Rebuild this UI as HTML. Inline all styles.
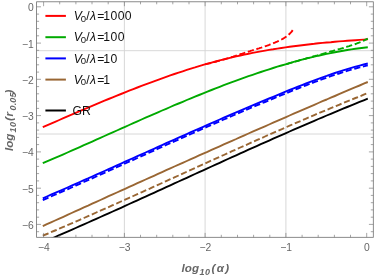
<!DOCTYPE html>
<html><head><meta charset="utf-8"><title>plot</title>
<style>
html,body{margin:0;padding:0;background:#fff;}
svg{display:block;will-change:transform;}
text{font-family:"Liberation Sans",Arial,Helvetica,sans-serif;}
</style></head><body>
<svg width="374" height="276" viewBox="0 0 374 276">
<rect x="0" y="0" width="374" height="276" fill="#ffffff"/>
<defs><clipPath id="pc"><rect x="36.6" y="1.8" width="336.7" height="235.5"/></clipPath></defs>
<g stroke="#d4d4d4" stroke-width="0.9" fill="none"><line x1="124.4" y1="1.8" x2="124.4" y2="237.3"/><line x1="205.1" y1="1.8" x2="205.1" y2="237.3"/><line x1="285.9" y1="1.8" x2="285.9" y2="237.3"/><line x1="36.6" y1="50.7" x2="373.3" y2="50.7"/><line x1="36.6" y1="134.0" x2="373.3" y2="134.0"/></g>
<g fill="none" clip-path="url(#pc)" stroke-linecap="butt" stroke-linejoin="round"><path d="M42.8,127.2 L46.9,125.4 L51.0,123.6 L55.1,121.8 L59.3,120.0 L63.4,118.2 L67.5,116.4 L71.6,114.7 L75.7,112.9 L79.8,111.1 L83.9,109.4 L88.1,107.6 L92.2,105.9 L96.3,104.1 L100.4,102.4 L104.5,100.7 L108.6,99.0 L112.7,97.3 L116.9,95.6 L121.0,94.0 L125.1,92.3 L129.2,90.7 L133.3,89.1 L137.4,87.5 L141.5,85.9 L145.6,84.3 L149.8,82.8 L153.9,81.3 L158.0,79.8 L162.1,78.3 L166.2,76.8 L170.3,75.4 L174.4,74.0 L178.6,72.6 L182.7,71.3 L186.8,69.9 L190.9,68.6 L195.0,67.4 L199.1,66.1 L203.2,64.9 L207.4,63.7 L211.5,62.6 L215.6,61.5 L219.7,60.4 L223.8,59.3 L227.9,58.3 L232.0,57.3 L236.2,56.4 L240.3,55.5 L244.4,54.6 L248.5,53.7 L252.6,52.9 L256.7,52.1 L260.8,51.4 L265.0,50.6 L269.1,49.9 L273.2,49.3 L277.3,48.6 L281.4,48.0 L285.5,47.4 L289.6,46.8 L293.7,46.2 L297.9,45.7 L302.0,45.2 L306.1,44.7 L310.2,44.2 L314.3,43.8 L318.4,43.3 L322.5,42.9 L326.7,42.5 L330.8,42.2 L334.9,41.8 L339.0,41.4 L343.1,41.1 L347.2,40.8 L351.3,40.5 L355.5,40.2 L359.6,39.9 L363.7,39.6 L367.8,39.3" stroke="#ff0000" stroke-width="1.9"/>
<path d="M42.8,163.2 L46.9,161.4 L51.0,159.7 L55.1,157.9 L59.3,156.1 L63.4,154.3 L67.5,152.5 L71.6,150.7 L75.7,148.9 L79.8,147.1 L83.9,145.2 L88.1,143.4 L92.2,141.6 L96.3,139.7 L100.4,137.9 L104.5,136.0 L108.6,134.2 L112.7,132.4 L116.9,130.5 L121.0,128.7 L125.1,126.9 L129.2,125.0 L133.3,123.2 L137.4,121.4 L141.5,119.5 L145.6,117.7 L149.8,115.9 L153.9,114.1 L158.0,112.3 L162.1,110.5 L166.2,108.8 L170.3,107.0 L174.4,105.2 L178.6,103.5 L182.7,101.8 L186.8,100.0 L190.9,98.3 L195.0,96.6 L199.1,95.0 L203.2,93.3 L207.4,91.6 L211.5,90.0 L215.6,88.4 L219.7,86.8 L223.8,85.2 L227.9,83.7 L232.0,82.1 L236.2,80.6 L240.3,79.1 L244.4,77.6 L248.5,76.2 L252.6,74.8 L256.7,73.4 L260.8,72.0 L265.0,70.6 L269.1,69.3 L273.2,68.0 L277.3,66.7 L281.4,65.5 L285.5,64.3 L289.6,63.1 L293.7,61.9 L297.9,60.8 L302.0,59.7 L306.1,58.7 L310.2,57.7 L314.3,56.7 L318.4,55.7 L322.5,54.8 L326.7,53.9 L330.8,53.1 L334.9,52.2 L339.0,51.5 L343.1,50.7 L347.2,50.0 L351.3,49.4 L355.5,48.8 L359.6,48.2 L363.7,47.7 L367.8,47.2" stroke="#00aa00" stroke-width="1.9"/>
<path d="M42.8,198.3 L46.9,196.5 L51.0,194.7 L55.1,192.9 L59.3,191.1 L63.4,189.3 L67.5,187.5 L71.6,185.7 L75.7,183.8 L79.8,182.0 L83.9,180.2 L88.1,178.4 L92.2,176.5 L96.3,174.7 L100.4,172.8 L104.5,171.0 L108.6,169.1 L112.7,167.3 L116.9,165.4 L121.0,163.6 L125.1,161.7 L129.2,159.9 L133.3,158.0 L137.4,156.2 L141.5,154.3 L145.6,152.5 L149.8,150.6 L153.9,148.8 L158.0,146.9 L162.1,145.1 L166.2,143.2 L170.3,141.4 L174.4,139.6 L178.6,137.7 L182.7,135.9 L186.8,134.1 L190.9,132.2 L195.0,130.4 L199.1,128.6 L203.2,126.8 L207.4,124.9 L211.5,123.1 L215.6,121.3 L219.7,119.5 L223.8,117.7 L227.9,116.0 L232.0,114.2 L236.2,112.4 L240.3,110.6 L244.4,108.9 L248.5,107.1 L252.6,105.4 L256.7,103.6 L260.8,101.9 L265.0,100.2 L269.1,98.5 L273.2,96.8 L277.3,95.1 L281.4,93.4 L285.5,91.7 L289.6,90.0 L293.7,88.4 L297.9,86.7 L302.0,85.1 L306.1,83.5 L310.2,81.9 L314.3,80.4 L318.4,78.8 L322.5,77.3 L326.7,75.9 L330.8,74.4 L334.9,73.0 L339.0,71.7 L343.1,70.4 L347.2,69.1 L351.3,67.9 L355.5,66.7 L359.6,65.6 L363.7,64.5 L367.8,63.5" stroke="#0000ff" stroke-width="1.9"/>
<path d="M42.8,226.1 L46.9,224.2 L51.0,222.4 L55.1,220.5 L59.3,218.6 L63.4,216.8 L67.5,214.9 L71.6,213.0 L75.7,211.2 L79.8,209.3 L83.9,207.4 L88.1,205.6 L92.2,203.7 L96.3,201.8 L100.4,200.0 L104.5,198.1 L108.6,196.2 L112.7,194.4 L116.9,192.5 L121.0,190.6 L125.1,188.8 L129.2,186.9 L133.3,185.1 L137.4,183.2 L141.5,181.3 L145.6,179.5 L149.8,177.6 L153.9,175.8 L158.0,173.9 L162.1,172.1 L166.2,170.2 L170.3,168.4 L174.4,166.5 L178.6,164.7 L182.7,162.8 L186.8,161.0 L190.9,159.1 L195.0,157.3 L199.1,155.4 L203.2,153.6 L207.4,151.8 L211.5,149.9 L215.6,148.1 L219.7,146.3 L223.8,144.4 L227.9,142.6 L232.0,140.8 L236.2,139.0 L240.3,137.1 L244.4,135.3 L248.5,133.5 L252.6,131.7 L256.7,129.9 L260.8,128.1 L265.0,126.3 L269.1,124.5 L273.2,122.7 L277.3,120.9 L281.4,119.1 L285.5,117.3 L289.6,115.5 L293.7,113.7 L297.9,111.9 L302.0,110.1 L306.1,108.3 L310.2,106.6 L314.3,104.8 L318.4,103.0 L322.5,101.2 L326.7,99.5 L330.8,97.7 L334.9,96.0 L339.0,94.2 L343.1,92.4 L347.2,90.7 L351.3,88.9 L355.5,87.2 L359.6,85.5 L363.7,83.7 L367.8,82.0" stroke="#996633" stroke-width="1.9"/>
<path d="M42.8,242.3 L46.9,240.5 L51.0,238.8 L55.1,237.0 L59.3,235.2 L63.4,233.4 L67.5,231.6 L71.6,229.8 L75.7,228.0 L79.8,226.2 L83.9,224.4 L88.1,222.5 L92.2,220.7 L96.3,218.9 L100.4,217.0 L104.5,215.2 L108.6,213.3 L112.7,211.5 L116.9,209.6 L121.0,207.8 L125.1,205.9 L129.2,204.0 L133.3,202.2 L137.4,200.3 L141.5,198.4 L145.6,196.6 L149.8,194.7 L153.9,192.8 L158.0,190.9 L162.1,189.1 L166.2,187.2 L170.3,185.3 L174.4,183.4 L178.6,181.5 L182.7,179.7 L186.8,177.8 L190.9,175.9 L195.0,174.0 L199.1,172.1 L203.2,170.3 L207.4,168.4 L211.5,166.5 L215.6,164.6 L219.7,162.8 L223.8,160.9 L227.9,159.0 L232.0,157.2 L236.2,155.3 L240.3,153.4 L244.4,151.6 L248.5,149.7 L252.6,147.9 L256.7,146.1 L260.8,144.2 L265.0,142.4 L269.1,140.6 L273.2,138.7 L277.3,136.9 L281.4,135.1 L285.5,133.3 L289.6,131.5 L293.7,129.7 L297.9,127.9 L302.0,126.1 L306.1,124.3 L310.2,122.6 L314.3,120.8 L318.4,119.0 L322.5,117.3 L326.7,115.5 L330.8,113.8 L334.9,112.1 L339.0,110.4 L343.1,108.7 L347.2,107.0 L351.3,105.3 L355.5,103.6 L359.6,101.9 L363.7,100.3 L367.8,98.6" stroke="#000000" stroke-width="1.9"/>
<path d="M205.2,64.4 L206.3,64.1 L207.4,63.9 L208.6,63.6 L209.7,63.3 L210.8,63.0 L211.9,62.7 L213.1,62.4 L214.2,62.1 L215.3,61.8 L216.4,61.5 L217.6,61.2 L218.7,60.9 L219.8,60.6 L220.9,60.3 L222.0,60.0 L223.2,59.6 L224.3,59.3 L225.4,59.0 L226.5,58.6 L227.7,58.3 L228.8,58.0 L229.9,57.6 L231.0,57.3 L232.1,56.9 L233.3,56.6 L234.4,56.2 L235.5,55.9 L236.6,55.5 L237.8,55.1 L238.9,54.8 L240.0,54.4 L241.1,54.0 L242.3,53.7 L243.4,53.3 L244.5,52.9 L245.6,52.5 L246.7,52.2 L247.9,51.8 L249.0,51.4 L250.1,51.1 L251.2,50.7 L252.4,50.4 L253.5,50.0 L254.6,49.7 L255.7,49.3 L256.8,49.0 L258.0,48.6 L259.1,48.3 L260.2,47.9 L261.3,47.6 L262.5,47.2 L263.6,46.9 L264.7,46.5 L265.8,46.1 L267.0,45.7 L268.1,45.3 L269.2,44.9 L270.3,44.4 L271.4,44.0 L272.6,43.5 L273.7,43.0 L274.8,42.6 L275.9,42.1 L277.1,41.6 L278.2,41.1 L279.3,40.6 L280.4,40.0 L281.5,39.5 L282.7,38.9 L283.8,38.2 L284.9,37.5 L286.0,36.8 L287.2,36.0 L288.3,35.0 L289.4,34.0 L290.5,32.9 L291.7,31.6 L292.8,30.0 L293.9,28.0" stroke="#ff0000" stroke-width="1.9" stroke-dasharray="6.2 2.7"/>
<path d="M286.4,64.1 L287.4,63.8 L288.5,63.5 L289.5,63.2 L290.5,62.9 L291.6,62.6 L292.6,62.3 L293.6,62.0 L294.6,61.7 L295.7,61.4 L296.7,61.1 L297.7,60.8 L298.8,60.5 L299.8,60.2 L300.8,59.9 L301.9,59.7 L302.9,59.4 L303.9,59.1 L304.9,58.8 L306.0,58.5 L307.0,58.2 L308.0,57.9 L309.1,57.7 L310.1,57.4 L311.1,57.1 L312.2,56.8 L313.2,56.5 L314.2,56.2 L315.3,55.9 L316.3,55.6 L317.3,55.4 L318.3,55.1 L319.4,54.8 L320.4,54.5 L321.4,54.2 L322.5,53.9 L323.5,53.6 L324.5,53.3 L325.6,53.0 L326.6,52.7 L327.6,52.4 L328.6,52.1 L329.7,51.8 L330.7,51.5 L331.7,51.3 L332.8,51.0 L333.8,50.7 L334.8,50.4 L335.9,50.1 L336.9,49.8 L337.9,49.5 L338.9,49.2 L340.0,48.9 L341.0,48.6 L342.0,48.3 L343.1,48.0 L344.1,47.6 L345.1,47.3 L346.2,47.0 L347.2,46.7 L348.2,46.4 L349.3,46.1 L350.3,45.7 L351.3,45.4 L352.3,45.1 L353.4,44.7 L354.4,44.4 L355.4,44.0 L356.5,43.6 L357.5,43.2 L358.5,42.8 L359.6,42.4 L360.6,42.0 L361.6,41.6 L362.6,41.1 L363.7,40.7 L364.7,40.2 L365.7,39.7 L366.8,39.1 L367.8,38.6" stroke="#00aa00" stroke-width="1.9" stroke-dasharray="6.2 2.7"/>
<path d="M42.8,200.1 L46.9,198.3 L51.0,196.5 L55.1,194.7 L59.3,192.9 L63.4,191.1 L67.5,189.3 L71.6,187.5 L75.7,185.6 L79.8,183.8 L83.9,182.0 L88.1,180.2 L92.2,178.3 L96.3,176.5 L100.4,174.6 L104.5,172.8 L108.6,170.9 L112.7,169.1 L116.9,167.2 L121.0,165.4 L125.1,163.5 L129.2,161.7 L133.3,159.8 L137.4,158.0 L141.5,156.1 L145.6,154.3 L149.8,152.4 L153.9,150.6 L158.0,148.7 L162.1,146.9 L166.2,145.0 L170.3,143.2 L174.4,141.4 L178.6,139.5 L182.7,137.7 L186.8,135.9 L190.9,134.0 L195.0,132.2 L199.1,130.4 L203.2,128.6 L207.4,126.7 L211.5,124.9 L215.6,123.1 L219.7,121.3 L223.8,119.5 L227.9,117.8 L232.0,116.0 L236.2,114.2 L240.3,112.4 L244.4,110.7 L248.5,108.9 L252.6,107.2 L256.7,105.4 L260.8,103.7 L265.0,102.0 L269.1,100.3 L273.2,98.6 L277.3,96.9 L281.4,95.2 L285.5,93.5 L289.6,91.8 L293.7,90.2 L297.9,88.5 L302.0,86.9 L306.1,85.3 L310.2,83.7 L314.3,82.2 L318.4,80.6 L322.5,79.1 L326.7,77.7 L330.8,76.2 L334.9,74.8 L339.0,73.5 L343.1,72.2 L347.2,70.9 L351.3,69.7 L355.5,68.5 L359.6,67.4 L363.7,66.3 L367.8,65.3" stroke="#0000ff" stroke-width="1.9" stroke-dasharray="6.2 2.7"/>
<path d="M42.8,235.7 L46.9,234.0 L51.0,232.2 L55.1,230.5 L59.3,228.7 L63.4,226.9 L67.5,225.1 L71.6,223.4 L75.7,221.6 L79.8,219.8 L83.9,218.0 L88.1,216.2 L92.2,214.4 L96.3,212.5 L100.4,210.7 L104.5,208.9 L108.6,207.1 L112.7,205.2 L116.9,203.4 L121.0,201.5 L125.1,199.7 L129.2,197.8 L133.3,196.0 L137.4,194.1 L141.5,192.3 L145.6,190.4 L149.8,188.6 L153.9,186.7 L158.0,184.8 L162.1,183.0 L166.2,181.1 L170.3,179.2 L174.4,177.4 L178.6,175.5 L182.7,173.6 L186.8,171.7 L190.9,169.9 L195.0,168.0 L199.1,166.1 L203.2,164.3 L207.4,162.4 L211.5,160.5 L215.6,158.7 L219.7,156.8 L223.8,155.0 L227.9,153.1 L232.0,151.2 L236.2,149.4 L240.3,147.5 L244.4,145.7 L248.5,143.9 L252.6,142.0 L256.7,140.2 L260.8,138.4 L265.0,136.5 L269.1,134.7 L273.2,132.9 L277.3,131.1 L281.4,129.3 L285.5,127.5 L289.6,125.7 L293.7,123.9 L297.9,122.1 L302.0,120.4 L306.1,118.6 L310.2,116.8 L314.3,115.1 L318.4,113.3 L322.5,111.6 L326.7,109.9 L330.8,108.2 L334.9,106.5 L339.0,104.8 L343.1,103.1 L347.2,101.4 L351.3,99.7 L355.5,98.0 L359.6,96.4 L363.7,94.7 L367.8,93.1" stroke="#996633" stroke-width="1.9" stroke-dasharray="6.2 2.7"/></g>
<g stroke="#6a6a6a" stroke-width="0.6" fill="none"><line x1="43.6" y1="237.3" x2="43.6" y2="232.9"/><line x1="43.6" y1="1.8" x2="43.6" y2="6.2"/><line x1="59.7" y1="237.3" x2="59.7" y2="234.8"/><line x1="59.7" y1="1.8" x2="59.7" y2="4.3"/><line x1="75.9" y1="237.3" x2="75.9" y2="234.8"/><line x1="75.9" y1="1.8" x2="75.9" y2="4.3"/><line x1="92.0" y1="237.3" x2="92.0" y2="234.8"/><line x1="92.0" y1="1.8" x2="92.0" y2="4.3"/><line x1="108.2" y1="237.3" x2="108.2" y2="234.8"/><line x1="108.2" y1="1.8" x2="108.2" y2="4.3"/><line x1="124.4" y1="237.3" x2="124.4" y2="232.9"/><line x1="124.4" y1="1.8" x2="124.4" y2="6.2"/><line x1="140.5" y1="237.3" x2="140.5" y2="234.8"/><line x1="140.5" y1="1.8" x2="140.5" y2="4.3"/><line x1="156.7" y1="237.3" x2="156.7" y2="234.8"/><line x1="156.7" y1="1.8" x2="156.7" y2="4.3"/><line x1="172.8" y1="237.3" x2="172.8" y2="234.8"/><line x1="172.8" y1="1.8" x2="172.8" y2="4.3"/><line x1="189.0" y1="237.3" x2="189.0" y2="234.8"/><line x1="189.0" y1="1.8" x2="189.0" y2="4.3"/><line x1="205.1" y1="237.3" x2="205.1" y2="232.9"/><line x1="205.1" y1="1.8" x2="205.1" y2="6.2"/><line x1="221.3" y1="237.3" x2="221.3" y2="234.8"/><line x1="221.3" y1="1.8" x2="221.3" y2="4.3"/><line x1="237.5" y1="237.3" x2="237.5" y2="234.8"/><line x1="237.5" y1="1.8" x2="237.5" y2="4.3"/><line x1="253.6" y1="237.3" x2="253.6" y2="234.8"/><line x1="253.6" y1="1.8" x2="253.6" y2="4.3"/><line x1="269.8" y1="237.3" x2="269.8" y2="234.8"/><line x1="269.8" y1="1.8" x2="269.8" y2="4.3"/><line x1="285.9" y1="237.3" x2="285.9" y2="232.9"/><line x1="285.9" y1="1.8" x2="285.9" y2="6.2"/><line x1="302.1" y1="237.3" x2="302.1" y2="234.8"/><line x1="302.1" y1="1.8" x2="302.1" y2="4.3"/><line x1="318.2" y1="237.3" x2="318.2" y2="234.8"/><line x1="318.2" y1="1.8" x2="318.2" y2="4.3"/><line x1="334.4" y1="237.3" x2="334.4" y2="234.8"/><line x1="334.4" y1="1.8" x2="334.4" y2="4.3"/><line x1="350.5" y1="237.3" x2="350.5" y2="234.8"/><line x1="350.5" y1="1.8" x2="350.5" y2="4.3"/><line x1="366.7" y1="237.3" x2="366.7" y2="232.9"/><line x1="366.7" y1="1.8" x2="366.7" y2="6.2"/><line x1="36.6" y1="231.7" x2="39.1" y2="231.7"/><line x1="373.3" y1="231.7" x2="370.8" y2="231.7"/><line x1="36.6" y1="224.4" x2="41.0" y2="224.4"/><line x1="373.3" y1="224.4" x2="368.9" y2="224.4"/><line x1="36.6" y1="217.2" x2="39.1" y2="217.2"/><line x1="373.3" y1="217.2" x2="370.8" y2="217.2"/><line x1="36.6" y1="209.9" x2="39.1" y2="209.9"/><line x1="373.3" y1="209.9" x2="370.8" y2="209.9"/><line x1="36.6" y1="202.7" x2="39.1" y2="202.7"/><line x1="373.3" y1="202.7" x2="370.8" y2="202.7"/><line x1="36.6" y1="195.4" x2="39.1" y2="195.4"/><line x1="373.3" y1="195.4" x2="370.8" y2="195.4"/><line x1="36.6" y1="188.2" x2="41.0" y2="188.2"/><line x1="373.3" y1="188.2" x2="368.9" y2="188.2"/><line x1="36.6" y1="180.9" x2="39.1" y2="180.9"/><line x1="373.3" y1="180.9" x2="370.8" y2="180.9"/><line x1="36.6" y1="173.6" x2="39.1" y2="173.6"/><line x1="373.3" y1="173.6" x2="370.8" y2="173.6"/><line x1="36.6" y1="166.4" x2="39.1" y2="166.4"/><line x1="373.3" y1="166.4" x2="370.8" y2="166.4"/><line x1="36.6" y1="159.1" x2="39.1" y2="159.1"/><line x1="373.3" y1="159.1" x2="370.8" y2="159.1"/><line x1="36.6" y1="151.9" x2="41.0" y2="151.9"/><line x1="373.3" y1="151.9" x2="368.9" y2="151.9"/><line x1="36.6" y1="144.6" x2="39.1" y2="144.6"/><line x1="373.3" y1="144.6" x2="370.8" y2="144.6"/><line x1="36.6" y1="137.4" x2="39.1" y2="137.4"/><line x1="373.3" y1="137.4" x2="370.8" y2="137.4"/><line x1="36.6" y1="130.1" x2="39.1" y2="130.1"/><line x1="373.3" y1="130.1" x2="370.8" y2="130.1"/><line x1="36.6" y1="122.9" x2="39.1" y2="122.9"/><line x1="373.3" y1="122.9" x2="370.8" y2="122.9"/><line x1="36.6" y1="115.6" x2="41.0" y2="115.6"/><line x1="373.3" y1="115.6" x2="368.9" y2="115.6"/><line x1="36.6" y1="108.4" x2="39.1" y2="108.4"/><line x1="373.3" y1="108.4" x2="370.8" y2="108.4"/><line x1="36.6" y1="101.1" x2="39.1" y2="101.1"/><line x1="373.3" y1="101.1" x2="370.8" y2="101.1"/><line x1="36.6" y1="93.8" x2="39.1" y2="93.8"/><line x1="373.3" y1="93.8" x2="370.8" y2="93.8"/><line x1="36.6" y1="86.6" x2="39.1" y2="86.6"/><line x1="373.3" y1="86.6" x2="370.8" y2="86.6"/><line x1="36.6" y1="79.3" x2="41.0" y2="79.3"/><line x1="373.3" y1="79.3" x2="368.9" y2="79.3"/><line x1="36.6" y1="72.1" x2="39.1" y2="72.1"/><line x1="373.3" y1="72.1" x2="370.8" y2="72.1"/><line x1="36.6" y1="64.8" x2="39.1" y2="64.8"/><line x1="373.3" y1="64.8" x2="370.8" y2="64.8"/><line x1="36.6" y1="57.6" x2="39.1" y2="57.6"/><line x1="373.3" y1="57.6" x2="370.8" y2="57.6"/><line x1="36.6" y1="50.3" x2="39.1" y2="50.3"/><line x1="373.3" y1="50.3" x2="370.8" y2="50.3"/><line x1="36.6" y1="43.1" x2="41.0" y2="43.1"/><line x1="373.3" y1="43.1" x2="368.9" y2="43.1"/><line x1="36.6" y1="35.8" x2="39.1" y2="35.8"/><line x1="373.3" y1="35.8" x2="370.8" y2="35.8"/><line x1="36.6" y1="28.6" x2="39.1" y2="28.6"/><line x1="373.3" y1="28.6" x2="370.8" y2="28.6"/><line x1="36.6" y1="21.3" x2="39.1" y2="21.3"/><line x1="373.3" y1="21.3" x2="370.8" y2="21.3"/><line x1="36.6" y1="14.1" x2="39.1" y2="14.1"/><line x1="373.3" y1="14.1" x2="370.8" y2="14.1"/><line x1="36.6" y1="6.8" x2="41.0" y2="6.8"/><line x1="373.3" y1="6.8" x2="368.9" y2="6.8"/></g>
<g stroke="#6e6e6e" stroke-width="0.8" fill="none"><rect x="36.6" y="1.8" width="336.7" height="235.5"/></g>
<g font-size="10.3" fill="#666666"><text x="43.8" y="251.2" text-anchor="middle">−4</text><text x="124.6" y="251.2" text-anchor="middle">−3</text><text x="205.3" y="251.2" text-anchor="middle">−2</text><text x="286.1" y="251.2" text-anchor="middle">−1</text><text x="366.9" y="251.2" text-anchor="middle">0</text><text x="33.7" y="228.9" text-anchor="end">−6</text><text x="33.7" y="192.7" text-anchor="end">−5</text><text x="33.7" y="156.4" text-anchor="end">−4</text><text x="33.7" y="120.1" text-anchor="end">−3</text><text x="33.7" y="83.8" text-anchor="end">−2</text><text x="33.7" y="47.6" text-anchor="end">−1</text><text x="33.7" y="11.3" text-anchor="end">0</text></g>
<g font-weight="bold" font-style="italic" fill="#666666" font-size="11.6"><text x="181.6" y="272">log</text><text x="199.6" y="275" font-size="9" letter-spacing="0.5">10</text><text x="211.4" y="272" letter-spacing="1.4">(α)</text></g>
<g font-weight="bold" font-style="italic" fill="#666666" font-size="11.6" transform="translate(12.8,151) rotate(-90)"><text x="0" y="0">log</text><text x="18.4" y="3" font-size="9" letter-spacing="0.5">10</text><text x="30" y="0" letter-spacing="0.6">(r</text><text x="40.6" y="3" font-size="9" letter-spacing="0.1">0.05</text><text x="57.4" y="0">)</text></g>
<line x1="45.4" y1="15.9" x2="65.9" y2="15.9" stroke="#ff0000" stroke-width="2"/><g font-size="12.2" fill="#111111"><text x="73.8" y="20.1" font-style="italic">V</text><text x="80.7" y="21.7" font-size="9.6">0</text><text x="86.3" y="20.1">/</text><text x="90.1" y="20.1" font-style="italic">λ</text><text x="97.3" y="20.1">=</text><text x="103.2" y="20.1" letter-spacing="0.45">1000</text></g><line x1="45.4" y1="37.2" x2="65.9" y2="37.2" stroke="#00aa00" stroke-width="2"/><g font-size="12.2" fill="#111111"><text x="73.8" y="41.4" font-style="italic">V</text><text x="80.7" y="43.0" font-size="9.6">0</text><text x="86.3" y="41.4">/</text><text x="90.1" y="41.4" font-style="italic">λ</text><text x="97.3" y="41.4">=</text><text x="103.2" y="41.4" letter-spacing="0.45">100</text></g><line x1="45.4" y1="58.4" x2="65.9" y2="58.4" stroke="#0000ff" stroke-width="2"/><g font-size="12.2" fill="#111111"><text x="73.8" y="62.6" font-style="italic">V</text><text x="80.7" y="64.2" font-size="9.6">0</text><text x="86.3" y="62.6">/</text><text x="90.1" y="62.6" font-style="italic">λ</text><text x="97.3" y="62.6">=</text><text x="103.2" y="62.6" letter-spacing="0.45">10</text></g><line x1="45.4" y1="79.6" x2="65.9" y2="79.6" stroke="#996633" stroke-width="2"/><g font-size="12.2" fill="#111111"><text x="73.8" y="83.8" font-style="italic">V</text><text x="80.7" y="85.4" font-size="9.6">0</text><text x="86.3" y="83.8">/</text><text x="90.1" y="83.8" font-style="italic">λ</text><text x="97.3" y="83.8">=</text><text x="103.2" y="83.8" letter-spacing="0.45">1</text></g><line x1="45.4" y1="110.5" x2="65.9" y2="110.5" stroke="#000" stroke-width="2"/><text x="72.6" y="114.8" font-size="12.2" fill="#111111">GR</text>
</svg>
</body></html>
